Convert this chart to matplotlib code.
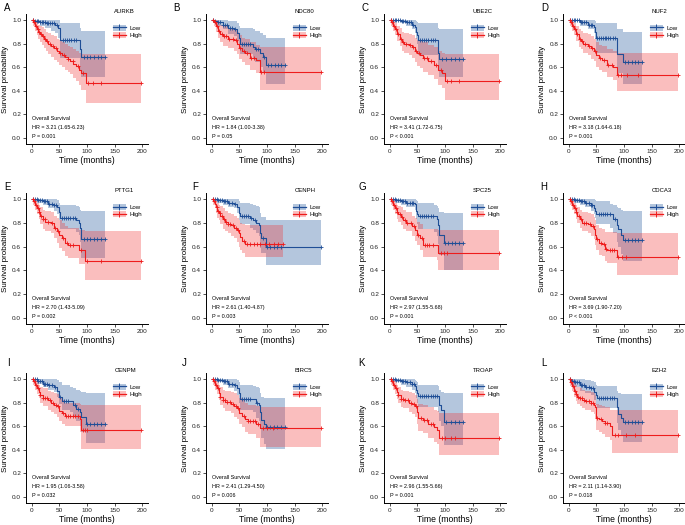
import numpy as np
import matplotlib
matplotlib.use("Agg")
import matplotlib.pyplot as plt
from matplotlib.patches import Patch
from matplotlib.lines import Line2D

plt.rcParams['font.family'] = ['Liberation Sans', 'DejaVu Sans']

# ---------------- data ----------------
letters = ["A", "B", "C", "D", "E", "F", "G", "H", "I", "J", "K", "L"]
genes = ["AURKB", "NDC80", "UBE2C", "NUF2", "PTTG1", "CENPH",
         "SPC25", "CDCA3", "CENPM", "BIRC5", "TROAP", "EZH2"]
hr_text = ["HR = 3.21 (1.65-6.23)", "HR = 1.84 (1.00-3.38)", "HR = 3.41 (1.72-6.75)",
           "HR = 3.18 (1.64-6.18)", "HR = 2.70 (1.43-5.09)", "HR = 2.61 (1.40-4.87)",
           "HR = 2.97 (1.55-5.68)", "HR = 3.69 (1.90-7.20)", "HR = 1.95 (1.06-3.58)",
           "HR = 2.41 (1.29-4.50)", "HR = 2.96 (1.55-5.66)", "HR = 2.11 (1.14-3.90)"]
p_text = ["P = 0.001", "P = 0.05", "P < 0.001", "P = 0.001", "P = 0.002", "P = 0.003",
          "P = 0.001", "P < 0.001", "P = 0.032", "P = 0.006", "P = 0.001", "P = 0.018"]

# Panel A
A_low_t = [0, 5, 15, 25, 35, 43, 48, 52, 87, 90, 133]
A_low_s = [1.0, 0.99, 0.985, 0.975, 0.97, 0.96, 0.93, 0.83, 0.75, 0.69, 0.69]
A_low_lo = [1.0, 0.97, 0.95, 0.93, 0.91, 0.89, 0.85, 0.68, 0.58, 0.52, 0.52]
A_low_hi = [1.0, 1.0, 1.0, 1.0, 1.0, 1.0, 1.0, 0.97, 0.93, 0.91, 0.91]
A_low_c = [3, 6, 9, 12, 15, 18, 21, 24, 27, 30, 33, 36, 40, 45, 56, 60, 64, 68, 72, 76, 80, 95, 100, 106, 112, 120, 126, 133]
A_high_t = [0, 3, 6, 9, 12, 15, 18, 22, 26, 30, 35, 40, 45, 50, 55, 60, 65, 70, 75, 80, 85, 90, 98, 198]
A_high_s = [1.0, 0.98, 0.95, 0.92, 0.90, 0.88, 0.86, 0.84, 0.82, 0.80, 0.78, 0.76, 0.74, 0.72, 0.70, 0.69, 0.67, 0.65, 0.63, 0.61, 0.58, 0.55, 0.465, 0.465]
A_high_lo = [1.0, 0.95, 0.91, 0.87, 0.84, 0.81, 0.79, 0.76, 0.74, 0.71, 0.69, 0.66, 0.64, 0.62, 0.60, 0.58, 0.56, 0.54, 0.51, 0.48, 0.45, 0.41, 0.30, 0.30]
A_high_hi = [1.0, 1.0, 0.99, 0.97, 0.96, 0.95, 0.94, 0.92, 0.90, 0.89, 0.87, 0.86, 0.84, 0.83, 0.81, 0.80, 0.78, 0.77, 0.75, 0.74, 0.72, 0.71, 0.71, 0.71]
A_high_c = [2, 5, 8, 11, 14, 17, 20, 24, 28, 33, 38, 44, 52, 58, 66, 74, 84, 92, 102, 110, 126, 198]

# Panel B
B_low_t = [0, 5, 10, 20, 30, 40, 45, 50, 52, 75, 78, 88, 92, 98, 133]
B_low_s = [1.0, 0.99, 0.98, 0.96, 0.93, 0.92, 0.89, 0.85, 0.80, 0.77, 0.75, 0.72, 0.69, 0.62, 0.62]
B_low_lo = [1.0, 0.97, 0.95, 0.92, 0.88, 0.86, 0.82, 0.77, 0.71, 0.67, 0.64, 0.60, 0.56, 0.46, 0.46]
B_low_hi = [1.0, 1.0, 1.0, 1.0, 0.99, 0.99, 0.97, 0.95, 0.93, 0.92, 0.91, 0.89, 0.87, 0.85, 0.85]
B_low_c = [3, 7, 12, 16, 20, 24, 28, 33, 37, 42, 55, 58, 62, 66, 70, 80, 84, 95, 102, 108, 114, 120, 126, 133]
B_high_t = [0, 4, 8, 12, 16, 20, 30, 40, 45, 50, 55, 60, 70, 80, 87, 198]
B_high_s = [1.0, 0.98, 0.95, 0.91, 0.88, 0.86, 0.84, 0.83, 0.80, 0.76, 0.74, 0.72, 0.68, 0.66, 0.56, 0.56]
B_high_lo = [1.0, 0.95, 0.90, 0.85, 0.81, 0.78, 0.76, 0.74, 0.71, 0.67, 0.64, 0.62, 0.58, 0.55, 0.41, 0.41]
B_high_hi = [1.0, 1.0, 1.0, 0.98, 0.96, 0.95, 0.93, 0.92, 0.90, 0.87, 0.85, 0.84, 0.81, 0.79, 0.77, 0.77]
B_high_c = [2, 6, 10, 14, 18, 22, 26, 32, 38, 44, 52, 58, 64, 72, 76, 90, 94, 198]

# Panel C
C_low_t = [0, 20, 30, 40, 45, 48, 50, 52, 87, 88, 90, 133]
C_low_s = [1.0, 0.99, 0.98, 0.96, 0.94, 0.90, 0.87, 0.83, 0.78, 0.72, 0.67, 0.67]
C_low_lo = [1.0, 0.97, 0.95, 0.92, 0.89, 0.84, 0.80, 0.70, 0.64, 0.58, 0.52, 0.52]
C_low_hi = [1.0, 1.0, 1.0, 1.0, 1.0, 0.99, 0.98, 0.97, 0.95, 0.93, 0.92, 0.92]
C_low_c = [3, 6, 9, 12, 15, 18, 22, 25, 28, 31, 35, 38, 42, 55, 58, 62, 66, 70, 74, 78, 82, 95, 102, 110, 118, 126, 133]
C_high_t = [0, 3, 6, 10, 14, 18, 22, 26, 35, 40, 45, 50, 55, 60, 70, 80, 88, 95, 100, 198]
C_high_s = [1.0, 0.98, 0.95, 0.92, 0.88, 0.84, 0.81, 0.80, 0.79, 0.77, 0.74, 0.72, 0.70, 0.68, 0.65, 0.62, 0.58, 0.55, 0.48, 0.48]
C_high_lo = [1.0, 0.95, 0.91, 0.87, 0.82, 0.78, 0.74, 0.72, 0.70, 0.68, 0.64, 0.61, 0.59, 0.56, 0.53, 0.50, 0.45, 0.42, 0.32, 0.32]
C_high_hi = [1.0, 1.0, 0.99, 0.97, 0.95, 0.93, 0.90, 0.89, 0.88, 0.87, 0.85, 0.83, 0.82, 0.81, 0.79, 0.77, 0.74, 0.72, 0.71, 0.71]
C_high_c = [2, 5, 8, 12, 16, 20, 24, 30, 36, 42, 48, 54, 62, 68, 75, 84, 92, 104, 110, 126, 198]

# Panel D
D_low_t = [0, 20, 35, 45, 48, 50, 88, 98, 133]
D_low_s = [1.0, 0.98, 0.96, 0.94, 0.90, 0.85, 0.71, 0.64, 0.64]
D_low_lo = [1.0, 0.95, 0.92, 0.89, 0.84, 0.72, 0.55, 0.46, 0.46]
D_low_hi = [1.0, 1.0, 1.0, 1.0, 0.99, 0.97, 0.92, 0.90, 0.90]
D_low_c = [3, 6, 9, 12, 15, 18, 22, 25, 28, 32, 36, 40, 43, 52, 55, 58, 62, 65, 68, 72, 75, 80, 84, 102, 108, 114, 120, 126, 133]
D_high_t = [0, 3, 6, 10, 14, 18, 22, 26, 35, 40, 45, 50, 55, 60, 70, 80, 87, 198]
D_high_s = [1.0, 0.98, 0.95, 0.92, 0.88, 0.84, 0.82, 0.80, 0.78, 0.76, 0.74, 0.70, 0.68, 0.66, 0.62, 0.60, 0.535, 0.535]
D_high_lo = [1.0, 0.95, 0.91, 0.87, 0.82, 0.77, 0.75, 0.72, 0.70, 0.67, 0.65, 0.60, 0.58, 0.56, 0.52, 0.49, 0.40, 0.40]
D_high_hi = [1.0, 1.0, 0.99, 0.97, 0.95, 0.92, 0.91, 0.89, 0.88, 0.86, 0.84, 0.81, 0.79, 0.78, 0.75, 0.74, 0.72, 0.72]
D_high_c = [2, 5, 8, 12, 16, 20, 24, 30, 36, 42, 48, 56, 64, 72, 78, 90, 94, 105, 126, 198]

# Panel E
E_low_t = [0, 10, 20, 30, 40, 45, 50, 52, 80, 85, 88, 90, 133]
E_low_s = [1.0, 0.99, 0.98, 0.96, 0.95, 0.93, 0.89, 0.84, 0.82, 0.80, 0.76, 0.66, 0.66]
E_low_lo = [1.0, 0.97, 0.95, 0.92, 0.90, 0.87, 0.82, 0.75, 0.72, 0.70, 0.64, 0.50, 0.50]
E_low_hi = [1.0, 1.0, 1.0, 1.0, 1.0, 0.99, 0.97, 0.95, 0.94, 0.93, 0.91, 0.90, 0.90]
E_low_c = [3, 6, 9, 12, 15, 18, 22, 25, 28, 32, 36, 40, 44, 55, 58, 62, 66, 70, 74, 78, 95, 100, 106, 112, 118, 126, 133]
E_high_t = [0, 3, 6, 10, 13, 16, 20, 25, 35, 40, 45, 50, 55, 60, 65, 85, 97, 198]
E_high_s = [1.0, 0.98, 0.95, 0.92, 0.89, 0.86, 0.83, 0.81, 0.80, 0.76, 0.73, 0.70, 0.67, 0.63, 0.615, 0.57, 0.48, 0.48]
E_high_lo = [1.0, 0.95, 0.91, 0.87, 0.83, 0.79, 0.75, 0.73, 0.71, 0.67, 0.63, 0.59, 0.56, 0.52, 0.50, 0.45, 0.32, 0.32]
E_high_hi = [1.0, 1.0, 0.99, 0.97, 0.95, 0.93, 0.91, 0.90, 0.89, 0.86, 0.84, 0.82, 0.80, 0.77, 0.76, 0.74, 0.73, 0.73]
E_high_c = [2, 5, 8, 11, 14, 17, 20, 24, 30, 36, 42, 48, 56, 64, 70, 75, 90, 100, 126, 198]

# Panel F
F_low_t = [0, 10, 20, 30, 40, 45, 50, 52, 70, 75, 80, 85, 88, 90, 98, 198]
F_low_s = [1.0, 0.99, 0.98, 0.97, 0.96, 0.93, 0.885, 0.86, 0.84, 0.82, 0.80, 0.785, 0.71, 0.67, 0.60, 0.60]
F_low_lo = [1.0, 0.97, 0.95, 0.93, 0.92, 0.88, 0.82, 0.79, 0.76, 0.74, 0.71, 0.69, 0.59, 0.55, 0.445, 0.445]
F_low_hi = [1.0, 1.0, 1.0, 1.0, 1.0, 1.0, 0.98, 0.97, 0.96, 0.95, 0.94, 0.93, 0.88, 0.85, 0.82, 0.82]
F_low_c = [3, 6, 9, 12, 15, 18, 22, 25, 28, 32, 36, 42, 55, 58, 62, 66, 72, 78, 92, 100, 106, 112, 118, 126, 198]
F_high_t = [0, 3, 6, 8, 10, 13, 16, 20, 25, 30, 35, 40, 45, 50, 52, 55, 60, 128]
F_high_s = [1.0, 0.98, 0.96, 0.93, 0.90, 0.88, 0.86, 0.83, 0.81, 0.79, 0.78, 0.76, 0.74, 0.71, 0.68, 0.65, 0.625, 0.625]
F_high_lo = [1.0, 0.95, 0.92, 0.88, 0.84, 0.82, 0.79, 0.75, 0.73, 0.71, 0.69, 0.67, 0.64, 0.60, 0.57, 0.55, 0.51, 0.51]
F_high_hi = [1.0, 1.0, 1.0, 0.99, 0.97, 0.95, 0.94, 0.92, 0.90, 0.88, 0.87, 0.86, 0.84, 0.82, 0.80, 0.79, 0.78, 0.78]
F_high_c = [2, 5, 9, 12, 15, 18, 22, 26, 30, 34, 38, 44, 48, 58, 64, 70, 76, 82, 88, 96, 104, 112, 120, 128]

# Panel G
G_low_t = [0, 10, 20, 30, 45, 48, 50, 52, 80, 85, 88, 90, 98, 133]
G_low_s = [1.0, 0.99, 0.98, 0.97, 0.96, 0.90, 0.87, 0.855, 0.855, 0.83, 0.78, 0.70, 0.63, 0.63]
G_low_lo = [1.0, 0.97, 0.95, 0.93, 0.91, 0.83, 0.79, 0.75, 0.72, 0.69, 0.62, 0.53, 0.40, 0.40]
G_low_hi = [1.0, 1.0, 1.0, 1.0, 1.0, 0.99, 0.98, 0.97, 0.95, 0.94, 0.92, 0.89, 0.88, 0.88]
G_low_c = [3, 6, 9, 12, 15, 18, 22, 25, 28, 32, 36, 40, 43, 55, 58, 62, 66, 70, 74, 78, 100, 106, 112, 118, 126, 133]
G_high_t = [0, 3, 6, 10, 13, 16, 20, 25, 30, 40, 45, 50, 55, 60, 85, 87, 198]
G_high_s = [1.0, 0.98, 0.95, 0.92, 0.89, 0.87, 0.85, 0.82, 0.80, 0.77, 0.74, 0.70, 0.67, 0.615, 0.61, 0.545, 0.545]
G_high_lo = [1.0, 0.95, 0.91, 0.87, 0.83, 0.81, 0.78, 0.75, 0.73, 0.69, 0.65, 0.61, 0.57, 0.51, 0.49, 0.40, 0.40]
G_high_hi = [1.0, 1.0, 0.99, 0.97, 0.95, 0.94, 0.93, 0.91, 0.89, 0.86, 0.84, 0.81, 0.79, 0.75, 0.75, 0.74, 0.74]
G_high_c = [2, 5, 8, 11, 14, 18, 22, 27, 32, 38, 44, 52, 58, 64, 68, 72, 78, 92, 98, 104, 198]

# Panel H
H_low_t = [0, 10, 20, 30, 40, 45, 48, 50, 75, 80, 88, 90, 95, 98, 133]
H_low_s = [1.0, 0.99, 0.98, 0.97, 0.95, 0.92, 0.90, 0.875, 0.875, 0.83, 0.78, 0.75, 0.70, 0.655, 0.655]
H_low_lo = [1.0, 0.97, 0.95, 0.93, 0.90, 0.87, 0.84, 0.79, 0.76, 0.71, 0.64, 0.60, 0.54, 0.48, 0.48]
H_low_hi = [1.0, 1.0, 1.0, 1.0, 1.0, 1.0, 0.99, 0.98, 0.96, 0.95, 0.93, 0.92, 0.91, 0.90, 0.90]
H_low_c = [3, 6, 9, 12, 15, 18, 22, 25, 28, 32, 36, 40, 43, 55, 58, 62, 66, 70, 74, 84, 102, 108, 114, 120, 126, 133]
H_high_t = [0, 3, 6, 10, 13, 16, 20, 25, 35, 40, 45, 48, 50, 55, 60, 65, 70, 87, 198]
H_high_s = [1.0, 0.98, 0.95, 0.92, 0.89, 0.86, 0.83, 0.80, 0.79, 0.77, 0.75, 0.70, 0.66, 0.63, 0.62, 0.58, 0.57, 0.51, 0.51]
H_high_lo = [1.0, 0.95, 0.91, 0.87, 0.83, 0.80, 0.76, 0.73, 0.71, 0.69, 0.66, 0.61, 0.57, 0.53, 0.52, 0.48, 0.46, 0.36, 0.36]
H_high_hi = [1.0, 1.0, 0.99, 0.97, 0.95, 0.93, 0.91, 0.89, 0.88, 0.87, 0.85, 0.82, 0.78, 0.76, 0.75, 0.72, 0.72, 0.71, 0.71]
H_high_c = [2, 5, 8, 11, 14, 18, 22, 27, 32, 38, 44, 52, 58, 64, 68, 74, 78, 82, 90, 96, 104, 198]

# Panel I
I_low_t = [0, 10, 20, 30, 40, 45, 50, 55, 70, 75, 80, 88, 90, 98, 133]
I_low_s = [1.0, 0.98, 0.96, 0.95, 0.93, 0.90, 0.85, 0.81, 0.81, 0.78, 0.745, 0.72, 0.68, 0.615, 0.615]
I_low_lo = [1.0, 0.96, 0.93, 0.91, 0.89, 0.85, 0.79, 0.74, 0.72, 0.68, 0.64, 0.60, 0.55, 0.455, 0.455]
I_low_hi = [1.0, 1.0, 1.0, 1.0, 1.0, 0.99, 0.97, 0.95, 0.93, 0.92, 0.91, 0.90, 0.89, 0.88, 0.88]
I_low_c = [3, 6, 9, 12, 15, 18, 22, 25, 28, 32, 36, 42, 52, 58, 62, 66, 78, 84, 100, 106, 112, 118, 126, 133]
I_high_t = [0, 3, 6, 10, 13, 16, 20, 30, 35, 40, 45, 50, 55, 60, 88, 90, 198]
I_high_s = [1.0, 0.98, 0.95, 0.92, 0.89, 0.86, 0.84, 0.82, 0.80, 0.78, 0.77, 0.73, 0.71, 0.69, 0.66, 0.57, 0.57]
I_high_lo = [1.0, 0.95, 0.91, 0.87, 0.84, 0.80, 0.77, 0.74, 0.72, 0.70, 0.68, 0.64, 0.62, 0.60, 0.55, 0.41, 0.41]
I_high_hi = [1.0, 1.0, 0.99, 0.97, 0.95, 0.93, 0.92, 0.90, 0.89, 0.88, 0.87, 0.84, 0.82, 0.80, 0.79, 0.78, 0.78]
I_high_c = [2, 5, 8, 12, 16, 20, 24, 28, 33, 38, 44, 48, 57, 62, 66, 70, 74, 78, 84, 92, 96, 100, 198]

# Panel J
J_low_t = [0, 10, 20, 30, 40, 45, 50, 52, 75, 80, 85, 87, 90, 95, 98, 133]
J_low_s = [1.0, 0.99, 0.98, 0.96, 0.95, 0.92, 0.88, 0.83, 0.83, 0.80, 0.78, 0.72, 0.655, 0.62, 0.59, 0.59]
J_low_lo = [1.0, 0.97, 0.95, 0.92, 0.90, 0.86, 0.80, 0.74, 0.72, 0.67, 0.64, 0.58, 0.50, 0.45, 0.41, 0.41]
J_low_hi = [1.0, 1.0, 1.0, 1.0, 1.0, 0.99, 0.97, 0.95, 0.94, 0.93, 0.92, 0.88, 0.85, 0.84, 0.84, 0.84]
J_low_c = [3, 6, 9, 12, 15, 18, 22, 25, 28, 32, 36, 42, 55, 58, 62, 66, 70, 82, 100, 106, 112, 118, 126, 133]
J_high_t = [0, 3, 6, 10, 13, 16, 20, 25, 35, 40, 45, 50, 55, 60, 65, 80, 87, 198]
J_high_s = [1.0, 0.98, 0.95, 0.92, 0.88, 0.85, 0.82, 0.805, 0.79, 0.77, 0.75, 0.71, 0.69, 0.66, 0.64, 0.62, 0.585, 0.585]
J_high_lo = [1.0, 0.95, 0.91, 0.87, 0.82, 0.78, 0.75, 0.73, 0.71, 0.68, 0.66, 0.62, 0.59, 0.55, 0.53, 0.50, 0.42, 0.42]
J_high_hi = [1.0, 1.0, 0.99, 0.97, 0.95, 0.93, 0.91, 0.90, 0.89, 0.88, 0.86, 0.84, 0.82, 0.80, 0.78, 0.77, 0.76, 0.76]
J_high_c = [2, 5, 8, 12, 16, 20, 24, 28, 33, 38, 44, 48, 58, 66, 70, 74, 78, 84, 92, 100, 110, 198]

# Panel K
K_low_t = [0, 10, 20, 30, 40, 45, 48, 50, 52, 88, 90, 92, 98, 133]
K_low_s = [1.0, 0.99, 0.98, 0.97, 0.96, 0.94, 0.91, 0.88, 0.855, 0.855, 0.78, 0.74, 0.635, 0.635]
K_low_lo = [1.0, 0.97, 0.95, 0.93, 0.91, 0.88, 0.84, 0.80, 0.76, 0.72, 0.64, 0.60, 0.44, 0.44]
K_low_hi = [1.0, 1.0, 1.0, 1.0, 1.0, 0.99, 0.98, 0.97, 0.95, 0.94, 0.91, 0.89, 0.88, 0.88]
K_low_c = [3, 6, 9, 12, 15, 18, 22, 25, 28, 32, 36, 40, 44, 55, 58, 62, 66, 70, 74, 78, 82, 86, 102, 110, 118, 126, 133]
K_high_t = [0, 3, 6, 10, 13, 16, 20, 25, 35, 40, 45, 50, 52, 60, 70, 80, 85, 90, 198]
K_high_s = [1.0, 0.98, 0.95, 0.92, 0.89, 0.86, 0.83, 0.82, 0.80, 0.79, 0.77, 0.72, 0.67, 0.65, 0.62, 0.59, 0.57, 0.50, 0.50]
K_high_lo = [1.0, 0.95, 0.91, 0.87, 0.83, 0.80, 0.76, 0.75, 0.72, 0.70, 0.68, 0.62, 0.56, 0.54, 0.50, 0.47, 0.45, 0.355, 0.355]
K_high_hi = [1.0, 1.0, 0.99, 0.97, 0.95, 0.93, 0.91, 0.90, 0.89, 0.88, 0.86, 0.83, 0.79, 0.78, 0.76, 0.74, 0.73, 0.71, 0.71]
K_high_c = [2, 5, 8, 12, 16, 20, 24, 28, 33, 38, 44, 48, 56, 62, 68, 74, 78, 94, 100, 110, 118, 198]

# Panel L
L_low_t = [0, 5, 10, 20, 30, 40, 45, 50, 52, 87, 88, 90, 95, 99, 133]
L_low_s = [1.0, 0.98, 0.97, 0.95, 0.93, 0.92, 0.89, 0.86, 0.84, 0.84, 0.76, 0.70, 0.67, 0.635, 0.635]
L_low_lo = [1.0, 0.95, 0.93, 0.90, 0.88, 0.86, 0.82, 0.78, 0.75, 0.73, 0.63, 0.57, 0.52, 0.47, 0.47]
L_low_hi = [1.0, 1.0, 1.0, 1.0, 0.99, 0.98, 0.97, 0.95, 0.94, 0.93, 0.90, 0.88, 0.87, 0.87, 0.87]
L_low_c = [3, 6, 9, 12, 15, 18, 22, 25, 28, 32, 36, 40, 44, 55, 58, 62, 66, 70, 74, 78, 82, 102, 108, 114, 120, 126, 133]
L_high_t = [0, 3, 6, 10, 13, 16, 20, 25, 30, 40, 45, 48, 50, 55, 60, 65, 75, 78, 198]
L_high_s = [1.0, 0.97, 0.94, 0.90, 0.87, 0.85, 0.84, 0.82, 0.81, 0.80, 0.78, 0.76, 0.67, 0.66, 0.64, 0.63, 0.60, 0.525, 0.525]
L_high_lo = [1.0, 0.94, 0.90, 0.85, 0.81, 0.79, 0.77, 0.75, 0.74, 0.72, 0.70, 0.67, 0.57, 0.55, 0.53, 0.51, 0.48, 0.37, 0.37]
L_high_hi = [1.0, 1.0, 0.99, 0.97, 0.95, 0.93, 0.92, 0.91, 0.90, 0.89, 0.88, 0.86, 0.79, 0.78, 0.77, 0.76, 0.74, 0.74, 0.74]
L_high_c = [2, 5, 8, 11, 14, 17, 20, 24, 28, 32, 36, 40, 44, 52, 58, 66, 70, 84, 90, 104, 120, 198]

x_ticks = [0, 50, 100, 150, 200]
y_ticks = [0.0, 0.2, 0.4, 0.6, 0.8, 1.0]
y_ticklabels = ["0.0", "0.2", "0.4", "0.6", "0.8", "1.0"]
group_labels = ["Low", "High"]

# ---------------- style ----------------
LOW_LINE = "#1F4E96"
LOW_FILL = "#3A6BA8"
HIGH_LINE = "#EE1C1C"
HIGH_FILL = "#F03A3A"

W, H = 685, 525
fig = plt.figure(figsize=(W / 100, H / 100), dpi=100)

col_left = [26, 206, 384, 563]
row_top = [14, 193, 373]
row_bot = [144, 324, 503]
ax_w = 122

letter_pos = [(4, 8), (173, 8), (362, 8), (541, 8),
              (4, 187), (192, 187), (358, 187), (540, 187),
              (7, 363), (182, 363), (358, 363), (541, 363)]

g = globals()


def surv_at(t, s, tc):
    idx = np.searchsorted(np.asarray(t), np.asarray(tc), side="right") - 1
    idx = np.clip(idx, 0, len(s) - 1)
    return np.asarray(s)[idx]


for i, L in enumerate(letters):
    r, c = divmod(i, 4)
    left = col_left[c] / W
    bottom = 1 - row_bot[r] / H
    height = (row_bot[r] - row_top[r]) / H
    ax = fig.add_axes([left, bottom, ax_w / W, height])

    handles = []
    for grp, lc, fc, a in (("low", LOW_LINE, LOW_FILL, 0.38), ("high", HIGH_LINE, HIGH_FILL, 0.33)):
        t = g[f"{L}_{grp}_t"]
        s = g[f"{L}_{grp}_s"]
        lo = g[f"{L}_{grp}_lo"]
        hi = g[f"{L}_{grp}_hi"]
        tc = g[f"{L}_{grp}_c"]
        ax.fill_between(t, lo, hi, step="post", color=fc, alpha=a, linewidth=0)
        ax.step(t, s, where="post", color=lc, lw=0.8)
        ax.plot(tc, surv_at(t, s, tc), linestyle="none", marker="+", color=lc,
                markersize=3.2, markeredgewidth=0.6)
        handles.append((Patch(facecolor=fc, alpha=a, edgecolor="none"),
                        Line2D([], [], color=lc, lw=0.9, marker="+", markersize=4,
                               markeredgewidth=0.7)))

    ax.set_xlim(-10, 210)
    ax.set_ylim(-0.05, 1.05)
    ax.set_xticks(x_ticks)
    ax.set_yticks(y_ticks)
    ax.set_yticklabels(y_ticklabels)
    ax.tick_params(labelsize=4.6, length=2, width=0.6, pad=1.5, colors="#333333",
                   labelcolor="#222222")
    for sp in ("top", "right"):
        ax.spines[sp].set_visible(False)
    for sp in ("left", "bottom"):
        ax.spines[sp].set_linewidth(0.7)
    ax.set_xlabel("Time (months)", fontsize=6.2, labelpad=1.5)
    ax.set_ylabel("Survival probability", fontsize=5.8, labelpad=2)

    ax.text(0, 0.165, "Overall Survival", fontsize=3.9, va="center", ha="left")
    ax.text(0, 0.09, hr_text[i], fontsize=3.9, va="center", ha="left")
    ax.text(0, 0.015, p_text[i], fontsize=3.9, va="center", ha="left")

    ax.text(0.725, 1.02, genes[i], transform=ax.transAxes, fontsize=4.3,
            va="center", ha="left")
    leg = ax.legend(handles, group_labels, loc="upper left",
                    bbox_to_anchor=(0.70, 0.925), frameon=False, fontsize=4.4,
                    handlelength=2.2, handleheight=1.1, labelspacing=0.2,
                    handletextpad=0.5, borderpad=0.2, borderaxespad=0)

    lx, ly = letter_pos[i]
    fig.text(lx / W, 1 - ly / H, L, fontsize=7, va="center", ha="left")

fig.savefig("out.png", dpi=100)
